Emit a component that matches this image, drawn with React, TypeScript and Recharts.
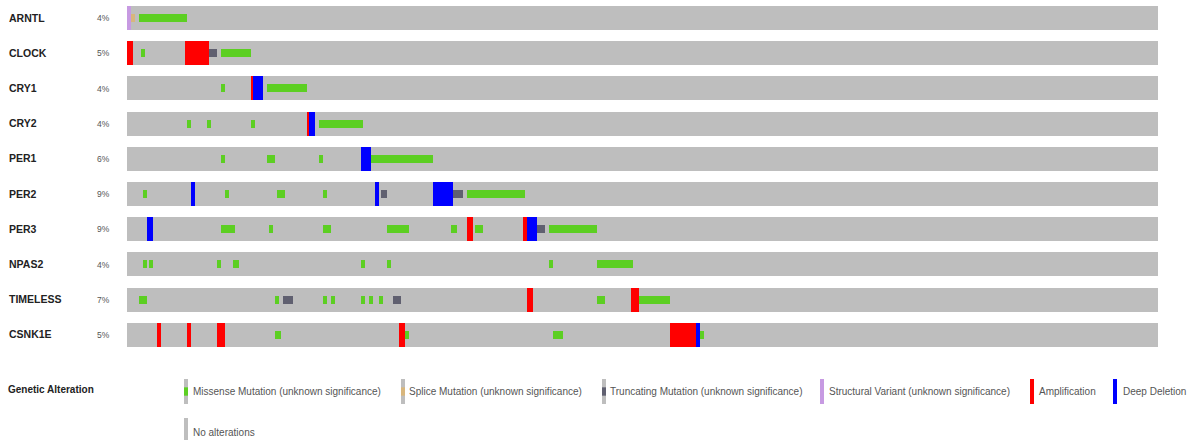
import { BarChart, Bar, XAxis, YAxis } from 'recharts';

// Sample columns across each track (one unit = one sample slot)
const SAMPLES = 515;

const genes = ['ARNTL', 'CLOCK', 'CRY1', 'CRY2', 'PER1', 'PER2', 'PER3', 'NPAS2', 'TIMELESS', 'CSNK1E'];
const alteredPct = ['4%', '5%', '4%', '4%', '6%', '9%', '9%', '4%', '7%', '5%'];

type Alt = 'mis' | 'spl' | 'trunc' | 'sv' | 'amp' | 'del';
type Seg = [number, number, Alt];

// [first sample, end sample, alteration] per gene, left to right
const arntl: Seg[] = [[0, 2, 'sv'], [2, 4, 'spl'], [6, 30, 'mis']];
const clock: Seg[] = [[0, 3, 'amp'], [7, 9, 'mis'], [29, 41, 'amp'], [41, 45, 'trunc'], [47, 62, 'mis']];
const cry1: Seg[] = [[47, 49, 'mis'], [62, 63, 'amp'], [63, 68, 'del'], [70, 90, 'mis']];
const cry2: Seg[] = [[30, 32, 'mis'], [40, 42, 'mis'], [62, 64, 'mis'], [90, 91, 'amp'], [91, 94, 'del'], [96, 118, 'mis']];
const per1: Seg[] = [[47, 49, 'mis'], [70, 74, 'mis'], [96, 98, 'mis'], [117, 122, 'del'], [122, 153, 'mis']];
const per2: Seg[] = [
  [8, 10, 'mis'], [32, 34, 'del'], [49, 51, 'mis'], [75, 79, 'mis'], [98, 100, 'mis'],
  [124, 126, 'del'], [127, 130, 'trunc'], [153, 163, 'del'], [163, 168, 'trunc'], [170, 199, 'mis'],
];
const per3: Seg[] = [
  [10, 13, 'del'], [47, 54, 'mis'], [71, 73, 'mis'], [98, 102, 'mis'], [130, 141, 'mis'], [162, 165, 'mis'],
  [170, 173, 'amp'], [174, 178, 'mis'], [198, 200, 'amp'], [200, 205, 'del'], [205, 209, 'trunc'], [211, 235, 'mis'],
];
const npas2: Seg[] = [
  [8, 10, 'mis'], [11, 13, 'mis'], [45, 47, 'mis'], [53, 56, 'mis'], [117, 119, 'mis'],
  [130, 132, 'mis'], [211, 213, 'mis'], [235, 253, 'mis'],
];
const timeless: Seg[] = [
  [6, 10, 'mis'], [74, 76, 'mis'], [78, 83, 'trunc'], [98, 100, 'mis'], [102, 104, 'mis'], [117, 119, 'mis'],
  [121, 123, 'mis'], [126, 128, 'mis'], [133, 137, 'trunc'], [200, 203, 'amp'], [235, 239, 'mis'],
  [252, 256, 'amp'], [256, 271, 'mis'],
];
const csnk1e: Seg[] = [
  [15, 17, 'amp'], [30, 32, 'amp'], [45, 49, 'amp'], [74, 77, 'mis'], [136, 139, 'amp'], [139, 141, 'mis'],
  [213, 218, 'mis'], [271, 284, 'amp'], [284, 286, 'del'], [286, 288, 'mis'],
];

const geneAlterations = [arntl, clock, cry1, cry2, per1, per2, per3, npas2, timeless, csnk1e];

const legendLabels = [
  'Missense Mutation (unknown significance)',
  'Splice Mutation (unknown significance)',
  'Truncating Mutation (unknown significance)',
  'Structural Variant (unknown significance)',
  'Amplification',
  'Deep Deletion',
];
const legendTypes: Alt[] = ['mis', 'spl', 'trunc', 'sv', 'amp', 'del'];

const COLORS: Record<string, string> = {
  none: '#bebebe',
  mis: '#5ccf22',
  spl: '#d8b67c',
  trunc: '#606070',
  sv: '#c79ae2',
  amp: '#ff0000',
  del: '#0000ff',
};

const FONT = '"Liberation Sans", Arial, sans-serif';

// split a gene track into consecutive cells, gray filler between alterations
function toCells(segs: Seg[]) {
  const cells: { w: number; t: string }[] = [];
  let pos = 0;
  for (const [a, b, t] of segs) {
    if (a > pos) cells.push({ w: a - pos, t: 'none' });
    cells.push({ w: b - a, t });
    pos = b;
  }
  if (pos < SAMPLES) cells.push({ w: SAMPLES - pos, t: 'none' });
  return cells;
}

const cellsByGene = geneAlterations.map(toCells);
const maxCells = Math.max(...cellsByGene.map((c) => c.length));

const rows = genes.map((gene, g) => {
  const row: Record<string, string | number> = { gene };
  for (let i = 0; i < maxCells; i++) {
    const c = cellsByGene[g][i];
    row[`s${i}`] = c ? c.w : 0;
    row[`t${i}`] = c ? c.t : 'none';
  }
  return row;
});

function drawCell(props: any, type: string) {
  const { x, y, width, height } = props;
  if (!width || width <= 0) return <g />;
  const small = type === 'mis' || type === 'spl' || type === 'trunc';
  return (
    <g>
      <rect x={x} y={y} width={width} height={height} fill={COLORS.none} shapeRendering="crispEdges" />
      {type !== 'none' && (
        <rect
          x={x}
          y={small ? y + height / 3 : y}
          width={width}
          height={small ? height / 3 : height}
          fill={COLORS[type]}
          shapeRendering="crispEdges"
        />
      )}
    </g>
  );
}

function GeneTick(props: any) {
  const { y, payload } = props;
  const idx = genes.indexOf(payload.value);
  return (
    <g>
      <text x={9} y={y + 4} fontFamily={FONT} fontSize={10.5} fontWeight="bold" fill="#222">
        {payload.value}
      </text>
      <text x={97} y={y + 3.5} fontFamily={FONT} fontSize={8.5} fill="#555">
        {alteredPct[idx]}
      </text>
    </g>
  );
}

const swatchX = [184, 401, 602, 820, 1030, 1113];
const labelX = [193, 409, 610, 829, 1039, 1123];

function Swatch({ x, y, h, type }: { x: number; y: number; h: number; type: string }) {
  const small = type === 'mis' || type === 'spl' || type === 'trunc';
  return (
    <g>
      <rect x={x} y={y} width={4} height={h} fill={COLORS.none} />
      {type !== 'none' && (
        <rect x={x} y={small ? y + h / 3 : y} width={4} height={small ? h / 3 : h} fill={COLORS[type]} />
      )}
    </g>
  );
}

export default function App() {
  return (
    <div style={{ position: 'relative', width: 1196, height: 444, background: '#fff' }}>
      <style>{'body{margin:0}'}</style>
      <BarChart
        width={1196}
        height={352}
        data={rows}
        layout="vertical"
        margin={{ top: 0, right: 38, bottom: 0, left: 0 }}
      >
        <XAxis type="number" domain={[0, SAMPLES]} hide />
        <YAxis
          type="category"
          dataKey="gene"
          width={127}
          axisLine={false}
          tickLine={false}
          interval={0}
          tick={(p: any) => <GeneTick {...p} />}
        />
        {Array.from({ length: maxCells }, (_, i) => (
          <Bar
            key={i}
            dataKey={`s${i}`}
            stackId="track"
            barSize={24}
            isAnimationActive={false}
            shape={(p: any) => drawCell(p, p.payload[`t${i}`])}
          />
        ))}
      </BarChart>
      <svg
        width={1196}
        height={444}
        style={{ position: 'absolute', left: 0, top: 0, pointerEvents: 'none' }}
      >
        <text x={8} y={393} fontFamily={FONT} fontSize={10} fontWeight="bold" fill="#222">
          Genetic Alteration
        </text>
        {legendLabels.map((label, i) => (
          <g key={label}>
            <Swatch x={swatchX[i]} y={379} h={25} type={legendTypes[i]} />
            <text x={labelX[i]} y={395} fontFamily={FONT} fontSize={10} fill="#555">
              {label}
            </text>
          </g>
        ))}
        <Swatch x={184} y={418} h={22} type="none" />
        <text x={193} y={436} fontFamily={FONT} fontSize={10} fill="#555">
          No alterations
        </text>
      </svg>
    </div>
  );
}
